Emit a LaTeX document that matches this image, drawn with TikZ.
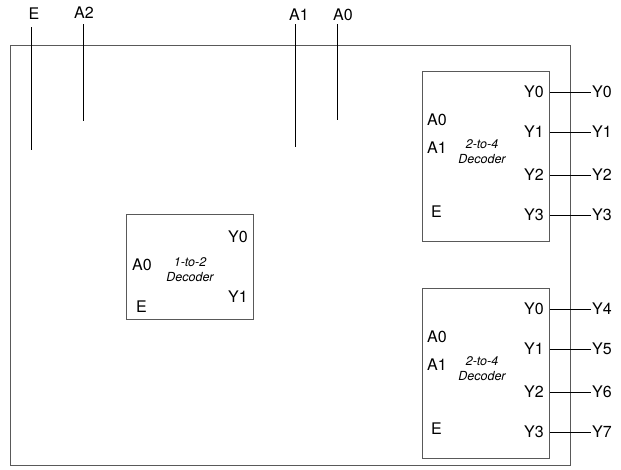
\documentclass[tikz,border=0pt]{standalone}
\usepackage{fontspec}
\setmainfont{TeX Gyre Heros}
\usetikzlibrary{positioning}
\begin{document}
\begin{tikzpicture}[x=1pt,y=-1pt,font=\fontsize{16}{18}\selectfont]
  \tikzstyle{block}=[rectangle,draw=black!65,line width=0.8pt,anchor=north west,inner sep=0pt]
  \tikzstyle{wire}=[black,line width=1pt]
  \tikzstyle{pinl}=[anchor=west,inner sep=1pt]
  \tikzstyle{pinr}=[anchor=east,inner sep=1pt]
  \tikzstyle{inname}=[anchor=base,inner sep=0pt]
  \tikzstyle{title}=[align=center,inner sep=0pt,font=\fontsize{12.5}{15}\selectfont\itshape]
  \useasboundingbox (0,0) rectangle (621,469);
  % outer box
  \draw[black!65,line width=0.8pt] (10,45) rectangle (570,465);
  % inputs
  \node[inname] (e)  at (34,19) {E};
  \node[inname] (a2) at (84,18) {A2};
  \node[inname] (a1) at (299,20) {A1};
  \node[inname] (a0) at (343,20) {A0};
  \coordinate (e top) at (31,27);   \coordinate (e end) at (31,150);
  \coordinate (a2 top) at (83,24);  \coordinate (a2 end) at (83,121);
  \coordinate (a1 top) at (295,24); \coordinate (a1 end) at (295,147);
  \coordinate (a0 top) at (337,24); \coordinate (a0 end) at (337,120);
  \foreach \n in {e,a2,a1,a0}
    \draw[wire] (\n\space top) -- (\n\space end);
  % 1-to-2 decoder
  \node[block,minimum width=127pt,minimum height=105pt] (dec s) at (126,214) {};
  \node[title] (ts) at (190,270) {1-to-2\\Decoder};
  \node[pinl] (sa0) at (131,265) {A0};
  \node[pinl] (se)  at (135,307) {E};
  \node[pinr] (sy0) at (249,237) {Y0};
  \node[pinr] (sy1) at (249,297) {Y1};
  % upper 2-to-4 decoder
  \begin{scope}
    \node[block,minimum width=127pt,minimum height=170pt] (dec a) at (422,71) {};
    \node[title] (ta) at (482,152) {2-to-4\\Decoder};
    \node[pinl] (aa0) at (426,120) {A0};
    \node[pinl] (aa1) at (426,148) {A1};
    \node[pinl] (ae)  at (430,212) {E};
    \foreach \i/\j/\y in {0/0/92,1/1/132,2/2/175,3/3/215} {
      \node[pinr] (ay\i) at (545,\y) {Y\i};
      \node[pinl] (ao\j) at (591,\y) {Y\j};
      \draw[wire] (dec a.east |- ay\i) -- (ao\j);
    }
  \end{scope}
  % lower 2-to-4 decoder
  \begin{scope}[yshift=-217pt]
    \node[block,minimum width=127pt,minimum height=170pt] (dec b) at (422,71) {};
    \node[title] (tb) at (482,152) {2-to-4\\Decoder};
    \node[pinl] (ba0) at (426,120) {A0};
    \node[pinl] (ba1) at (426,148) {A1};
    \node[pinl] (be)  at (430,212) {E};
    \foreach \i/\j/\y in {0/4/92,1/5/132,2/6/175,3/7/215} {
      \node[pinr] (by\i) at (545,\y) {Y\i};
      \node[pinl] (bo\j) at (591,\y) {Y\j};
      \draw[wire] (dec b.east |- by\i) -- (bo\j);
    }
  \end{scope}
\end{tikzpicture}
\end{document}
